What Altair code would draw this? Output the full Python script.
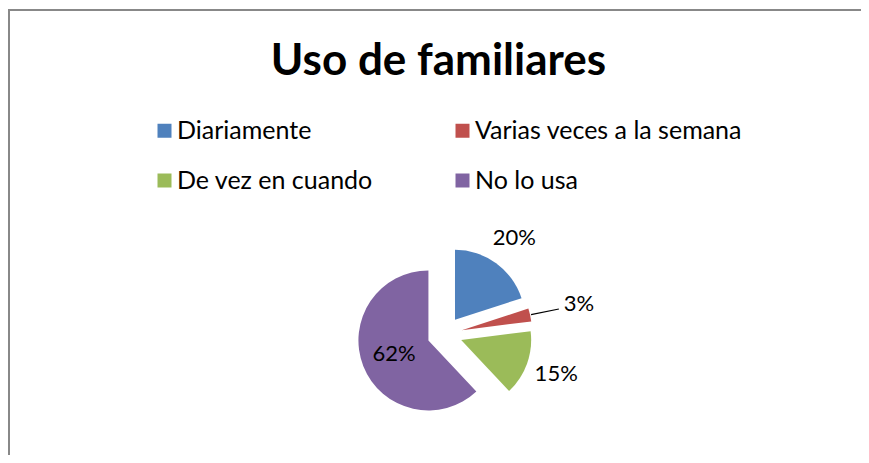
import math
import altair as alt
import pandas as pd

# ---- data ----
categories = ["Diariamente", "Varias veces a la semana", "De vez en cuando", "No lo usa"]
values = [20, 3, 15, 62]
colors = ["#4F81BD", "#C0504D", "#9BBB59", "#8064A2"]
order = [0, 1, 2, 3]

df = pd.DataFrame({"cat": categories, "value": values, "order": order})

W, H = 853, 447
CX, CY = 436.7, 326.0     # pie centre inside the view (pixels from top-left)
R = 70                    # pie radius
EXPLODE = 17.5            # explosion distance of every slice

xs = alt.Scale(domain=[-CX, W - CX], nice=False, zero=False)
ys = alt.Scale(domain=[-(H - CY), CY], nice=False, zero=False)

base = (
    alt.Chart(df)
    .transform_joinaggregate(total="sum(value)")
    .transform_window(cum="sum(value)", sort=[alt.SortField("order")], frame=[None, 0])
    .transform_calculate(
        t0="(datum.cum - datum.value) / datum.total * 100",
        t1="datum.cum / datum.total * 100",
        mid="(datum.cum - datum.value / 2) / datum.total * 2 * PI",
        lab="format(datum.value / datum.total, '.0%')",
    )
    .transform_calculate(
        ex=f"{EXPLODE} * sin(datum.mid)",
        ey=f"{EXPLODE} * cos(datum.mid)",
        lr="datum.value > 50 ? 37 : (datum.value < 5 ? 120 : 101)",
    )
    .transform_calculate(
        lx="datum.ex + datum.lr * sin(datum.mid)",
        ly="datum.ey + datum.lr * cos(datum.mid)",
    )
)

pie = base.mark_arc(radius=R).encode(
    x=alt.X("ex:Q", scale=xs, axis=None),
    y=alt.Y("ey:Q", scale=ys, axis=None),
    theta=alt.Theta("t0:Q", scale=alt.Scale(domain=[0, 100], range=[0, 2 * math.pi]), stack=None),
    theta2="t1:Q",
    color=alt.Color(
        "cat:N",
        scale=alt.Scale(domain=categories, range=colors),
        legend=alt.Legend(
            title=None,
            orient="none",
            legendX=144,
            legendY=110,
            direction="horizontal",
            columns=2,
            columnPadding=77,
            rowPadding=24,
            symbolType="square",
            symbolSize=196,
            symbolStrokeWidth=0,
            labelFont="Lato",
            labelFontSize=25,
            labelColor="black",
            labelOffset=0,
            labelLimit=400,
            padding=0,
        ),
    ),
    order=alt.Order("order:Q"),
)

labels = base.mark_text(font="Lato", fontSize=22, color="black", align="center", baseline="middle").encode(
    x=alt.X("lx:Q", scale=xs, axis=None),
    y=alt.Y("ly:Q", scale=ys, axis=None),
    text="lab:N",
)

leader = (
    base.transform_filter("datum.value < 5")
    .transform_calculate(
        rx0="datum.ex + 71 * sin(datum.mid)",
        ry0="datum.ey + 71 * cos(datum.mid)",
        rx1="datum.lx - 20",
        ry1="datum.ly - 5",
    )
    .mark_rule(color="black", strokeWidth=1.2)
    .encode(
        x=alt.X("rx0:Q", scale=xs, axis=None),
        y=alt.Y("ry0:Q", scale=ys, axis=None),
        x2="rx1:Q",
        y2="ry1:Q",
    )
)

frame_data = alt.Data(values=[{}])
top_border = alt.Chart(frame_data).mark_rule(color="#888888", strokeWidth=2).encode(
    x=alt.value(0), x2=alt.value(W), y=alt.value(2)
)
left_border = alt.Chart(frame_data).mark_rule(color="#888888", strokeWidth=2).encode(
    x=alt.value(1), y=alt.value(2), y2=alt.value(H)
)

chart = (
    alt.layer(top_border, left_border, pie, leader, labels)
    .properties(
        width=W,
        height=H,
        padding=0,
        autosize=alt.AutoSizeParams(type="none"),
        background="white",
        title=alt.TitleParams(
            "Uso de familiares",
            font="Lato",
            fontSize=44,
            fontWeight="bold",
            color="black",
            anchor="middle",
            baseline="alphabetic",
            offset=-111,
            dx=4,
        ),
    )
    .configure_view(stroke="transparent", strokeWidth=0)
)

chart.save("out.html", embed_options={"renderer": "svg", "actions": False})
